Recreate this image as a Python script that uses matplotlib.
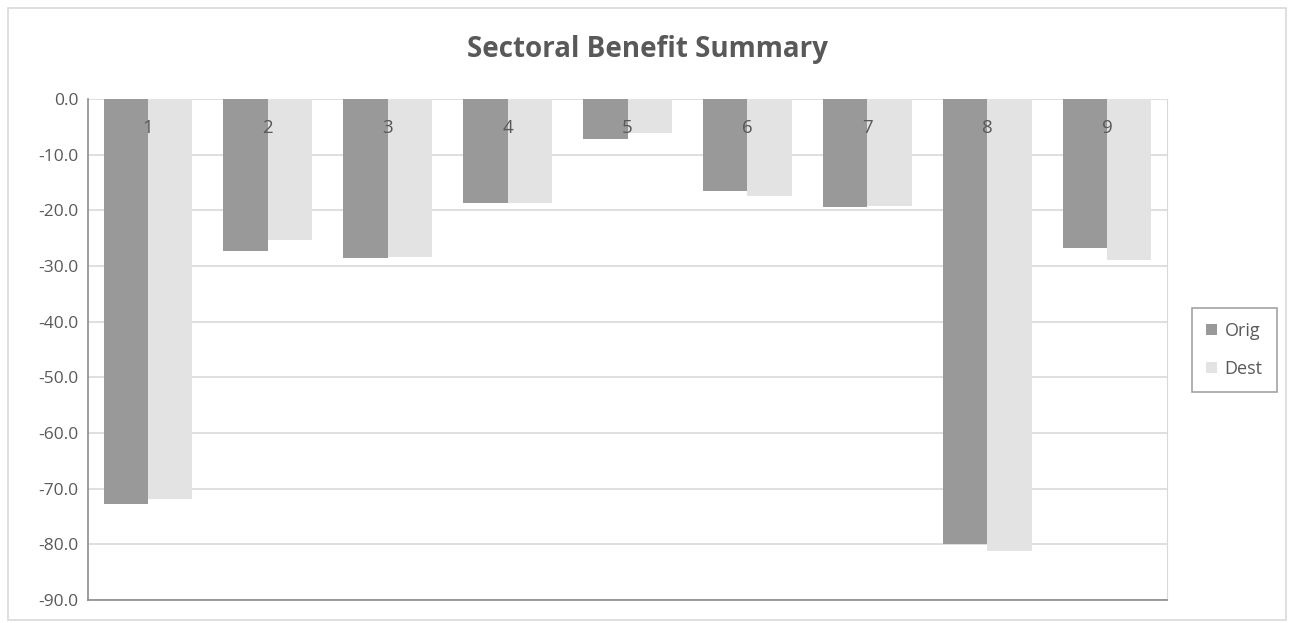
import numpy as np
import matplotlib.pyplot as plt
from matplotlib.patches import Rectangle

categories = ["1", "2", "3", "4", "5", "6", "7", "8", "9"]
orig = [-72.7, -27.3, -28.6, -18.6, -7.2, -16.5, -19.4, -80.0, -26.7]
dest = [-71.9, -25.4, -28.4, -18.7, -6.1, -17.5, -19.2, -81.2, -29.0]
yticks = np.arange(0, -100, -10)


def main():
    plt.rcParams["font.family"] = ["Open Sans", "DejaVu Sans"]
    text_color = "#595959"

    fig = plt.figure(figsize=(12.93, 6.23), dpi=100)
    ax = fig.add_axes([88 / 1293, 23 / 623, (1167 - 88) / 1293, (600 - 99) / 623])

    x = np.arange(len(categories))
    width = 0.37
    ax.bar(x - width / 2, orig, width, color="#999999", label="Orig", zorder=3)
    ax.bar(x + width / 2, dest, width, color="#e3e3e3", label="Dest", zorder=3)

    ax.set_xlim(-0.5, len(categories) - 0.5)
    ax.set_ylim(-90, 0)
    ax.set_yticks(yticks)
    ax.set_yticklabels([f"{v:.1f}" for v in yticks], color=text_color, fontsize=12.5)
    ax.grid(axis="y", color="#d9d9d9", linewidth=1.2, zorder=0)
    ax.tick_params(axis="y", length=0, pad=7)

    # category labels sit just under the zero line, on top of the bars
    ax.set_xticks([])
    for i, cat in enumerate(categories):
        ax.annotate(cat, (x[i], 0), xytext=(0, -21), textcoords="offset points",
                    ha="center", va="center", fontsize=13.5, color=text_color,
                    zorder=5)

    ax.spines["top"].set_visible(False)
    ax.spines["right"].set_color("#d9d9d9")
    ax.spines["left"].set_color("#8c8c8c")
    ax.spines["bottom"].set_color("#8c8c8c")
    ax.spines["left"].set_linewidth(1.2)
    ax.spines["bottom"].set_linewidth(1.2)

    fig.text(647 / 1293, 1 - 49 / 623, "Sectoral Benefit Summary", ha="center",
             va="center", fontsize=20, fontweight="bold", color=text_color)

    leg = fig.legend(loc="center left", bbox_to_anchor=(1192 / 1293, 1 - 350 / 623),
                     frameon=True, fancybox=False, edgecolor="#8c8c8c",
                     fontsize=13, handlelength=0.6, handleheight=0.6,
                     handletextpad=0.4, labelspacing=1.1, borderpad=0.8,
                     borderaxespad=0)
    leg.get_frame().set_linewidth(1.2)
    for t in leg.get_texts():
        t.set_color(text_color)

    fig.patches.append(Rectangle((8 / 1293, 3 / 623), 1278 / 1293, 612 / 623,
                                 transform=fig.transFigure, fill=False,
                                 edgecolor="#d9d9d9", linewidth=1.2))

    fig.savefig("out.png", dpi=100)


if __name__ == "__main__":
    main()
